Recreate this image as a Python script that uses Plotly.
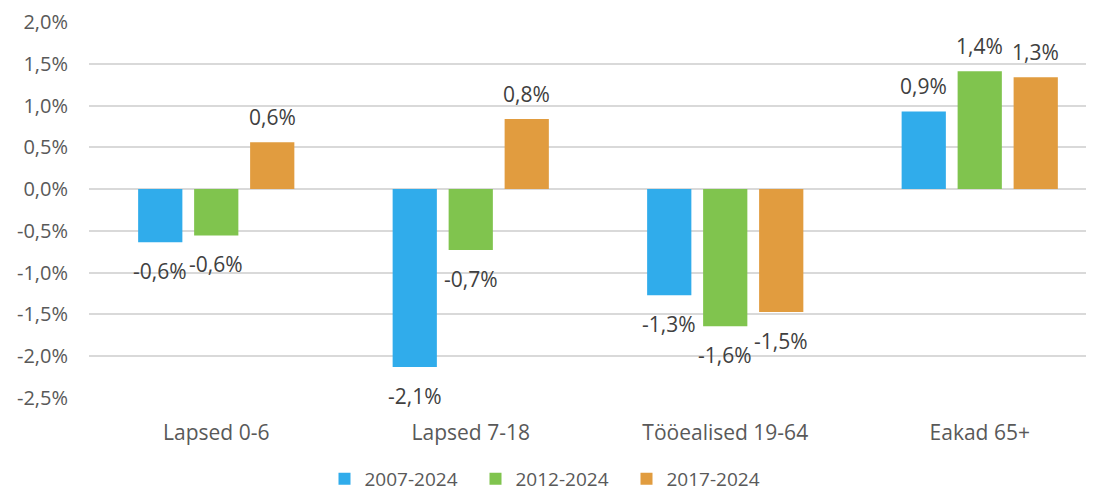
import plotly.graph_objects as go

# Data
categories = ["Lapsed 0-6", "Lapsed 7-18", "Tööealised 19-64", "Eakad 65+"]
series_names = ["2007-2024", "2012-2024", "2017-2024"]
values_2007 = [-0.636, -2.13, -1.27, 0.93]
values_2012 = [-0.555, -0.73, -1.64, 1.41]
values_2017 = [0.56, 0.84, -1.47, 1.34]
colors = ["#30ACEB", "#80C44E", "#E19C3F"]

tick_values = [2.0, 1.5, 1.0, 0.5, 0.0, -0.5, -1.0, -1.5, -2.0, -2.5]

FONT = "Open Sans"


def pct(v):
    # Estonian style: comma decimal, hyphen minus
    return f"{v:.1f}%".replace(".", ",")


tick_text = [pct(v) for v in tick_values]

fig = go.Figure()

all_series = [values_2007, values_2012, values_2017]
for name, vals, col in zip(series_names, all_series, colors):
    fig.add_trace(
        go.Bar(
            x=categories,
            y=vals,
            name=name,
            marker=dict(color=col, line=dict(width=0)),
            hoverinfo="skip",
        )
    )

# data labels, placed a bit further from the bar ends than plotly's default
for j, vals in enumerate(all_series):
    for cat, v in zip(categories, vals):
        fig.add_annotation(
            x=cat,
            y=v,
            xshift=(j - 1) * 56,
            yshift=25 if v >= 0 else -29,
            text=pct(v),
            showarrow=False,
            font=dict(family=FONT, size=21, color="#404040"),
        )

# page body has an 8px margin, so the figure is 8px smaller than the window
fig.update_layout(
    width=1086,
    height=483,
    barmode="group",
    bargap=0.34,
    bargroupgap=0.21,
    plot_bgcolor="white",
    paper_bgcolor="white",
    font=dict(family=FONT, size=20, color="#595959"),
    margin=dict(l=81, r=0, t=14, b=93, autoexpand=False),
    legend=dict(
        orientation="h",
        x=0.5,
        xanchor="center",
        xref="container",
        y=-0.215,
        yanchor="middle",
        yref="paper",
        font=dict(family=FONT, size=19, color="#595959"),
        itemwidth=30,
        entrywidth=106,
        traceorder="normal",
    ),
    xaxis=dict(
        range=[-0.5, 3.449],
        showgrid=False,
        showline=False,
        ticks="",
        ticklabelstandoff=20,
        tickfont=dict(size=21, color="#595959"),
    ),
    yaxis=dict(
        range=[-2.5, 2.0],
        tickvals=tick_values,
        ticktext=tick_text,
        showgrid=True,
        gridcolor="#D9D9D9",
        gridwidth=1.5,
        zeroline=True,
        zerolinecolor="#D9D9D9",
        zerolinewidth=1.5,
        ticklabelstandoff=20,
        tickfont=dict(size=20, color="#595959"),
    ),
)

fig.write_html("out.html")
